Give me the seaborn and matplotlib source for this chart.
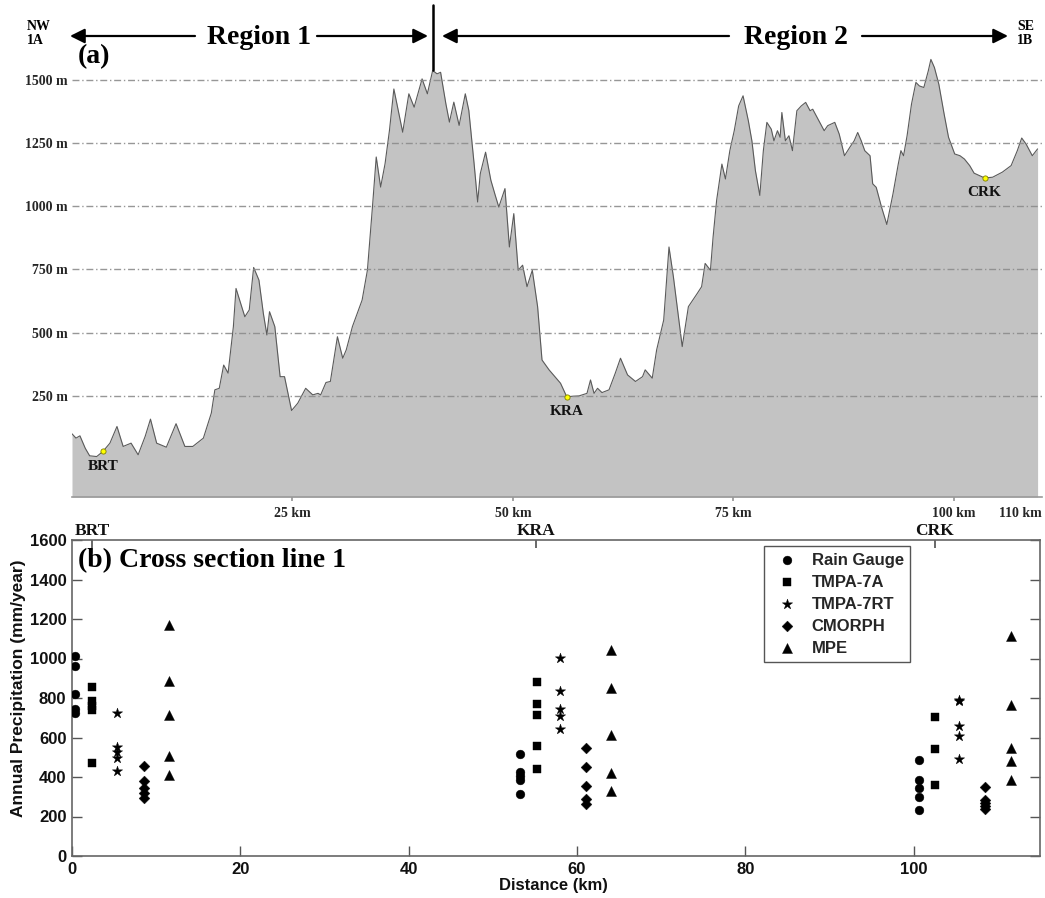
import numpy as np
import pandas as pd
import matplotlib
matplotlib.use("Agg")
import matplotlib.pyplot as plt
import seaborn as sns

sns.set_theme(style="ticks")
plt.rcParams["font.family"] = ["Liberation Sans", "DejaVu Sans"]

SERIF = "Liberation Serif"

# ---------------- elevation profile along cross section 1 ----------------
profile_km = [
    0, 0.45, 0.9, 1.5, 2.0, 2.8, 3.5, 4.3, 5.1, 5.8, 6.7, 7.5, 8.3, 8.9, 9.6,
    10.7, 11.8, 12.8, 13.7, 14.9, 15.8, 16.2, 16.7, 17.2, 17.7, 18.3, 18.6,
    19.6, 20.1, 20.6, 21.2, 21.7, 22.1, 22.4, 23.0, 23.6, 24.1, 24.9, 25.6,
    26.5, 27.3, 27.9, 28.2, 28.8, 29.3, 30.1, 30.7, 31.1, 31.8, 32.9, 33.5,
    34.1, 34.5, 35.0, 35.5, 36.0, 36.5, 37.0, 37.5, 38.2, 38.8, 39.7, 40.3,
    40.9, 41.4, 41.8, 42.4, 42.8, 43.3, 43.9, 44.6, 45.0, 45.6, 46.0, 46.3,
    46.9, 47.5, 48.0, 48.4, 49.1, 49.6, 50.1, 50.6, 51.1, 51.6, 52.2, 52.8,
    53.3, 54.1, 55.4, 56.1, 57.5, 58.4, 58.8, 59.2, 59.6, 60.1, 60.9, 61.6,
    62.2, 63.0, 63.9, 64.7, 65.0, 65.8, 66.3, 67.1, 67.7, 68.2, 69.2, 69.9,
    70.9, 71.4, 71.8, 72.4, 72.7, 73.1, 73.7, 74.1, 74.6, 75.1, 75.6, 76.1,
    76.7, 77.1, 77.5, 78.0, 78.4, 78.8, 79.3, 79.6, 80.0, 80.3, 80.5, 80.9,
    81.3, 81.7, 82.2, 82.7, 83.2, 83.7, 84.0, 84.6, 85.3, 85.7, 86.5, 87.0,
    87.6, 88.2, 88.7, 89.1, 89.5, 89.9, 90.5, 90.8, 91.2, 91.8, 92.4, 93.1,
    93.7, 94.0, 94.3, 94.7, 95.2, 95.7, 96.1, 96.6, 97.1, 97.4, 97.8, 98.3,
    98.9, 99.4, 100.1, 100.7, 101.2, 101.8, 102.3, 103.5, 104.4, 105.5,
    106.5, 107.2, 107.7, 108.2, 108.9, 109.5,
]
profile_elev = [
    100, 83, 92, 43, 13, 10, 30, 63, 129, 50, 63, 17, 90, 158, 63,
    47, 140, 50, 50, 83, 182, 274, 280, 372, 340, 524, 675,
    563, 590, 758, 708, 576, 491, 583, 524, 326, 326, 192, 221,
    280, 254, 260, 254, 303, 307, 484, 399, 432, 524, 629, 747,
    1010, 1195, 1076, 1168, 1300, 1464, 1379, 1293, 1445, 1392, 1504, 1445,
    1537, 1524, 1530, 1405, 1333, 1412, 1320, 1445, 1379, 1168, 1017, 1129,
    1214, 1103, 1043, 997, 1070, 839, 971, 747, 767, 682, 747, 603,
    392, 353, 300, 247, 250, 260, 313, 260, 280, 263, 274, 339,
    399, 333, 307, 326, 353, 320, 432, 550, 839, 721, 445, 603,
    655, 682, 774, 747, 878, 1023, 1167, 1108, 1220, 1299, 1397, 1437,
    1338, 1259, 1141, 1043, 1220, 1332, 1305, 1259, 1299, 1273, 1371, 1259,
    1279, 1220, 1378, 1397, 1411, 1378, 1384, 1345, 1299, 1319, 1332, 1286,
    1200, 1233, 1259, 1292, 1259, 1220, 1200, 1089, 1075, 997, 928, 1049,
    1167, 1220, 1200, 1279, 1404, 1490, 1476, 1470, 1535, 1581, 1549, 1483,
    1365, 1273, 1207, 1200, 1187, 1161, 1131, 1112, 1115, 1135,
    1161, 1220, 1270, 1246, 1200, 1227,
]
elev_ticks = [250, 500, 750, 1000, 1250, 1500]
dist_ticks = [25, 50, 75, 100, 110]

stations = ["BRT", "KRA", "CRK"]
station_km = [3.5, 56.1, 103.5]
station_elev = [30, 247, 1112]

# ---------------- annual precipitation at the gauges ----------------
products = ["Rain Gauge", "TMPA-7A", "TMPA-7RT", "CMORPH", "MPE"]
markers = {"Rain Gauge": "o", "TMPA-7A": "s", "TMPA-7RT": "*", "CMORPH": "D", "MPE": "^"}
marker_area = {"Rain Gauge": 40, "TMPA-7A": 38, "TMPA-7RT": 60, "CMORPH": 30, "MPE": 52}

# (distance km, values) for the three station groups
rain_gauge = [(0.4, [1015, 960, 822, 745, 725]),
              (53.2, [518, 425, 405, 385, 312]),
              (100.6, [486, 385, 343, 297, 233])]
tmpa_7a = [(2.4, [855, 785, 760, 740, 472]),
           (55.2, [883, 770, 714, 557, 440]),
           (102.5, [702, 540, 359])]
tmpa_7rt = [(5.4, [725, 552, 525, 498, 430]),
            (58.0, [1005, 837, 743, 710, 641]),
            (105.4, [790, 786, 658, 608, 491])]
cmorph = [(8.5, [458, 378, 345, 318, 295]),
          (61.1, [545, 449, 356, 288, 263]),
          (108.5, [351, 284, 268, 255, 240])]
mpe = [(11.5, [1170, 885, 715, 505, 412]),
       (64.0, [1042, 850, 614, 418, 327]),
       (111.6, [1114, 765, 545, 483, 385])]

gauge_top_km = [2.4, 55.1, 102.5]

rows = []
for name, groups in zip(products, [rain_gauge, tmpa_7a, tmpa_7rt, cmorph, mpe]):
    for km, vals in groups:
        for v in vals:
            rows.append({"Distance": km, "Precip": v, "Product": name})
precip = pd.DataFrame(rows)

prof = pd.DataFrame({"km": profile_km, "elev": profile_elev})

# ---------------- figure ----------------
W, H = 1045, 898
fig = plt.figure(figsize=(W / 100, H / 100), dpi=100)


def fx(px):
    return px / W


def fy(py):
    return 1 - py / H


# ---- panel (a): terrain profile ----
ax_a = fig.add_axes([fx(72), fy(497), fx(1042) - fx(72), fy(44.5) - fy(497)])
ax_a.set_facecolor("none")
ax_a.fill_between(prof["km"], prof["elev"], -150, color="#c3c3c3", lw=0, zorder=1)
sns.lineplot(data=prof, x="km", y="elev", ax=ax_a, color="#5a5a5a", lw=0.8,
             estimator=None, sort=False, zorder=2)
ax_a.set_xlim(0, 110)
ax_a.set_ylim(-150, 1640)
ax_a.set_yticks(elev_ticks)
ax_a.set_yticklabels([f"{v} m" for v in elev_ticks], fontfamily=SERIF,
                     fontweight="bold", fontsize=10)
ax_a.set_xticks(dist_ticks)
xt = ax_a.set_xticklabels([f"{v} km" for v in dist_ticks], fontfamily=SERIF,
                          fontweight="bold", fontsize=10)
xt[-1].set_horizontalalignment("right")
ax_a.tick_params(axis="y", length=0, pad=3)
ax_a.tick_params(axis="x", length=3, direction="out", color="#999", pad=4)
ax_a.xaxis.get_major_ticks()[-1].tick1line.set_visible(False)
ax_a.yaxis.grid(True, linestyle=(0, (5, 2, 1, 2)), color="#8c8c8c", lw=1, alpha=0.9)
ax_a.set_axisbelow(False)
for s in ["top", "right", "left"]:
    ax_a.spines[s].set_visible(False)
ax_a.spines["bottom"].set_color("#9a9a9a")
ax_a.spines["bottom"].set_linewidth(1.2)
ax_a.set_xlabel("")
ax_a.set_ylabel("")

sns.scatterplot(x=station_km, y=station_elev, ax=ax_a, color="#ffff00",
                edgecolor="#808000", s=14, linewidth=0.6, zorder=4, legend=False)
for name, km, el in zip(stations, station_km, station_elev):
    ax_a.annotate(name, (km, el), xytext=(0, -6), textcoords="offset points",
                  ha="center", va="top", fontfamily=SERIF, fontweight="bold",
                  fontsize=11, color="#111")

# headers above the profile
hdr = dict(fontfamily=SERIF, fontweight="bold", color="black")
fig.text(fx(27), fy(26), "NW", ha="left", va="center", fontsize=10, **hdr)
fig.text(fx(27), fy(41), "1A", ha="left", va="center", fontsize=10, **hdr)
fig.text(fx(1017), fy(26), "SE", ha="left", va="center", fontsize=10, **hdr)
fig.text(fx(1017), fy(41), "1B", ha="left", va="center", fontsize=10, **hdr)
fig.text(fx(78), fy(57), "(a)", ha="left", va="center", fontsize=20, **hdr)
fig.text(fx(259), fy(37), "Region 1", ha="center", va="center", fontsize=20, **hdr)
fig.text(fx(796), fy(37), "Region 2", ha="center", va="center", fontsize=20, **hdr)

arrow = dict(arrowstyle="-|>", color="black", lw=1.6, mutation_scale=22,
             shrinkA=0, shrinkB=0)
for x0, x1 in [(195, 70), (317, 428), (729, 442), (862, 1008)]:
    fig.add_artist(matplotlib.patches.FancyArrowPatch(
        (fx(x0), fy(36)), (fx(x1), fy(36)), transform=fig.transFigure, **arrow))
fig.add_artist(matplotlib.lines.Line2D([fx(433), fx(433)], [fy(5), fy(70)],
                                       transform=fig.transFigure, color="black", lw=1.8))

# ---- panel (b): precipitation by product ----
ax_b = fig.add_axes([fx(72), fy(856), fx(1040) - fx(72), fy(540) - fy(856)])
for name in products:
    sub = precip[precip["Product"] == name]
    sns.scatterplot(data=sub, x="Distance", y="Precip", ax=ax_b, marker=markers[name],
                    s=marker_area[name], color="black", edgecolor="black",
                    linewidth=0.3, label=name, zorder=3)
ax_b.set_xlim(0, 115)
ax_b.set_ylim(0, 1600)
ax_b.set_xticks(np.arange(0, 101, 20))
ax_b.set_yticks(np.arange(0, 1601, 200))
lab = dict(fontweight="bold", fontsize=12, color="#111")
ax_b.set_xticklabels([str(v) for v in range(0, 101, 20)], **lab)
ax_b.set_yticklabels([str(v) for v in range(0, 1601, 200)], **lab)
ax_b.tick_params(axis="both", direction="in", length=7, width=1, color="#555",
                 right=True, top=False, pad=4)
for s in ax_b.spines.values():
    s.set_color("#666")
    s.set_linewidth(1.2)

ax_b.set_xlabel("Distance (km)", fontweight="bold", fontsize=12, color="#111")
ax_b.set_ylabel("Annual Precipitation (mm/year)", fontweight="bold", fontsize=12.5,
                color="#111")
ax_b.xaxis.set_label_coords(0.497, -0.07)
ax_b.yaxis.set_label_coords(-0.048, 0.53)

top = ax_b.secondary_xaxis("top")
top.set_xticks(gauge_top_km)
top.set_xticklabels(stations, fontfamily=SERIF, fontweight="bold", fontsize=12.5,
                    color="#111")
top.tick_params(direction="in", length=6, color="#555", pad=1)
top.spines["top"].set_visible(False)

handles, labels = ax_b.get_legend_handles_labels()
leg = ax_b.legend(handles, labels, loc="upper left",
                  bbox_to_anchor=(fx(764), fy(546)), bbox_transform=fig.transFigure,
                  borderaxespad=0, frameon=True, fancybox=False, edgecolor="#555",
                  framealpha=1, scatterpoints=1, handlelength=1.95,
                  handletextpad=0.5, labelspacing=0.42, borderpad=0.4,
                  prop={"weight": "bold", "size": 12, "family": "Liberation Sans"})
leg.get_frame().set_linewidth(1.0)

fig.text(fx(78), fy(561), "(b) Cross section line 1", ha="left", va="center",
         fontsize=20, **hdr)

fig.savefig("out.png", dpi=100)
